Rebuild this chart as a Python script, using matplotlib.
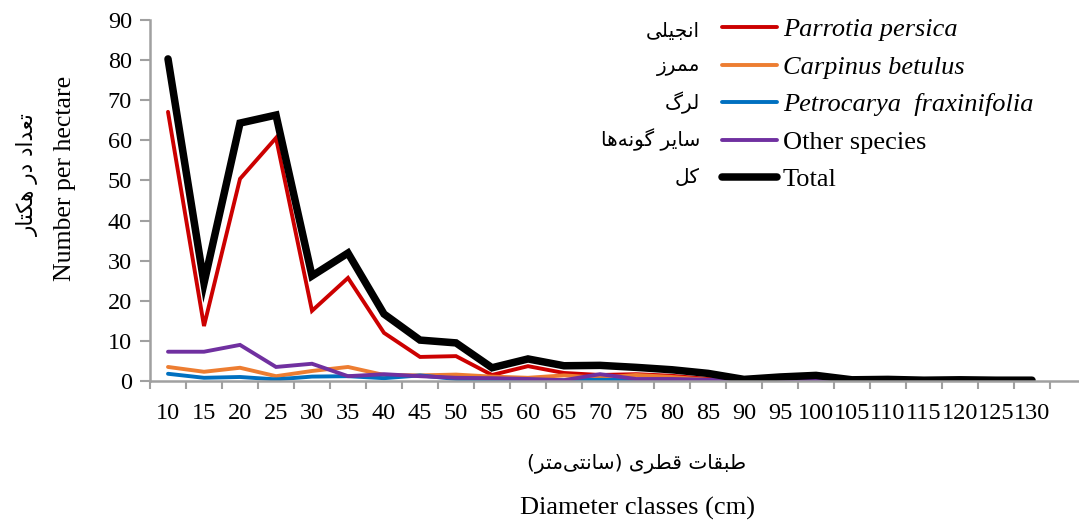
import matplotlib
matplotlib.use("Agg")
import matplotlib.pyplot as plt
import numpy as np

# diameter classes (cm) and stems per hectare for each group
classes = [10, 15, 20, 25, 30, 35, 40, 45, 50, 55, 60, 65, 70,
           75, 80, 85, 90, 95, 100, 105, 110, 115, 120, 125, 130]
parrotia = [67.1, 13.7, 50.4, 60.6, 17.5, 25.7, 12.0, 6.0, 6.2, 1.5, 3.7, 2.0, 1.5,
            1.7, 1.3, 0.5, 0.0, 0.0, 0.0, 0.0, 0.0, 0.0, 0.0, 0.0, 0.0]
carpinus = [3.5, 2.3, 3.3, 1.2, 2.5, 3.5, 1.5, 1.4, 1.6, 1.1, 0.8, 1.4, 0.8,
            1.5, 1.0, 0.3, 0.0, 0.0, 0.0, 0.0, 0.0, 0.0, 0.0, 0.0, 0.0]
petrocarya = [1.8, 0.8, 1.0, 0.4, 1.1, 1.2, 0.7, 1.4, 0.5, 0.3, 0.3, 0.2, 0.3,
              0.2, 0.2, 0.1, 0.0, 0.0, 0.0, 0.0, 0.0, 0.0, 0.0, 0.0, 0.0]
others = [7.3, 7.3, 9.0, 3.5, 4.3, 1.2, 1.7, 1.2, 0.8, 0.7, 0.5, 0.2, 1.7,
          0.5, 0.5, 0.3, 0.0, 0.3, 0.5, 0.1, 0.0, 0.0, 0.0, 0.0, 0.0]
total = [80.3, 24.4, 64.3, 66.3, 26.2, 31.9, 16.7, 10.2, 9.5, 3.3, 5.5, 3.8, 3.9,
         3.4, 2.8, 1.9, 0.4, 1.0, 1.4, 0.3, 0.4, 0.2, 0.3, 0.2, 0.2]

en_labels = ["Parrotia persica", "Carpinus betulus", "Petrocarya  fraxinifolia",
             "Other species", "Total"]
fa_labels = ["انجیلی", "ممرز", "لرگ", "سایر گونه\u200cها", "کل"]

# contextual forms: isolated, final, initial, medial
FORMS = {
    "ا": ("\uFE8D", "\uFE8E"), "د": ("\uFEA9", "\uFEAA"),
    "ر": ("\uFEAD", "\uFEAE"), "ز": ("\uFEAF", "\uFEB0"),
    "و": ("\uFEED", "\uFEEE"),
    "ب": ("\uFE8F", "\uFE90", "\uFE91", "\uFE92"),
    "ت": ("\uFE95", "\uFE96", "\uFE97", "\uFE98"),
    "ج": ("\uFE9D", "\uFE9E", "\uFE9F", "\uFEA0"),
    "س": ("\uFEB1", "\uFEB2", "\uFEB3", "\uFEB4"),
    "ط": ("\uFEC1", "\uFEC2", "\uFEC3", "\uFEC4"),
    "ع": ("\uFEC9", "\uFECA", "\uFECB", "\uFECC"),
    "ق": ("\uFED5", "\uFED6", "\uFED7", "\uFED8"),
    "ل": ("\uFEDD", "\uFEDE", "\uFEDF", "\uFEE0"),
    "م": ("\uFEE1", "\uFEE2", "\uFEE3", "\uFEE4"),
    "ن": ("\uFEE5", "\uFEE6", "\uFEE7", "\uFEE8"),
    "ه": ("\uFEE9", "\uFEEA", "\uFEEB", "\uFEEC"),
    "ک": ("\uFB8E", "\uFB8F", "\uFB90", "\uFB91"),
    "گ": ("\uFB92", "\uFB93", "\uFB94", "\uFB95"),
    "ی": ("\uFBFC", "\uFBFD", "\uFBFE", "\uFBFF"),
}


def fa(s):
    """Shape Persian text and put it in visual (left-to-right) order."""
    out = []
    for i, c in enumerate(s):
        if c not in FORMS:
            if c != "\u200c":
                out.append(c)
            continue
        prev = s[i - 1] if i > 0 else ""
        nxt = s[i + 1] if i + 1 < len(s) else ""
        jp = prev in FORMS and len(FORMS[prev]) == 4
        jn = len(FORMS[c]) == 4 and nxt in FORMS
        f = FORMS[c]
        if jp and jn:
            out.append(f[3])
        elif jp:
            out.append(f[1])
        elif jn:
            out.append(f[2])
        else:
            out.append(f[0])
    vis = "".join(reversed(out))
    return vis.translate(str.maketrans("()", ")("))


plt.rcParams["font.family"] = ["Liberation Serif", "DejaVu Sans"]
FA_FONT = ["DejaVu Sans"]
FS = 19
TICK_FS = 17.5
FA_FS = 14.5

W, H = 1079, 521
fig = plt.figure(figsize=(W / 100, H / 100), dpi=100)
ax = fig.add_axes([150 / W, (H - 381) / H, (W - 150) / W, 361 / H])

x = np.arange(len(classes))
series = [parrotia, carpinus, petrocarya, others, total]
colors = ["#CC0000", "#ED7D31", "#0070C0", "#7030A0", "black"]
widths = [2.8, 2.8, 2.8, 2.8, 5.4]
for vals, col, lw, lab in zip(series, colors, widths, en_labels):
    ax.plot(x, vals, color=col, lw=lw, label=lab, solid_capstyle="round",
            solid_joinstyle="miter")

ax.set_ylim(0, 90)
ax.set_xlim(-0.5, -0.5 + (W - 150) / 36)
ax.set_yticks(np.arange(0, 91, 10))
ax.set_xticks(x)
ax.set_xticklabels([str(c) for c in classes])
ax.set_xticks(np.arange(-0.5, len(classes)), minor=True)
ax.tick_params(axis="x", which="major", length=0, labelsize=TICK_FS, pad=16)
ax.tick_params(axis="x", which="minor", length=6, width=1.5, color="#A0A0A0")
ax.tick_params(axis="y", length=7, width=1.5, color="#A0A0A0",
               labelsize=TICK_FS, pad=6)

for side in ["top", "right"]:
    ax.spines[side].set_visible(False)
for side in ["left", "bottom"]:
    ax.spines[side].set_color("#A0A0A0")
    ax.spines[side].set_linewidth(1.8)

leg = ax.legend(loc="upper left", bbox_to_anchor=(722 / W, 1 - 18 / H),
                bbox_transform=fig.transFigure, frameon=False, fontsize=FS,
                handlelength=2.1, handletextpad=0.2, labelspacing=0.53,
                borderpad=0, borderaxespad=0)
for t in leg.get_texts()[:3]:
    t.set_style("italic")

# Persian names beside the legend entries
for lab, yy in zip(fa_labels, [31, 67, 103, 140, 177]):
    fig.text(700 / W, 1 - yy / H, fa(lab), ha="right", va="center",
             fontsize=FA_FS, family=FA_FONT)

fig.text(65 / W, 1 - 178 / H, "Number per hectare", rotation=90,
         ha="center", va="center", fontsize=FS - 0.5)
fig.text(28 / W, 1 - 175 / H, fa("تعداد در هکتار"), rotation=90,
         ha="center", va="center", fontsize=FA_FS + 1, family=FA_FONT)
fig.text(637 / W, 1 - 463 / H, fa("طبقات قطری (سانتی\u200cمتر)"),
         ha="center", va="center", fontsize=FA_FS, family=FA_FONT)
fig.text(637 / W, 1 - 508 / H, "Diameter classes (cm)",
         ha="center", va="center", fontsize=FS)

fig.savefig("out.png", dpi=100)
